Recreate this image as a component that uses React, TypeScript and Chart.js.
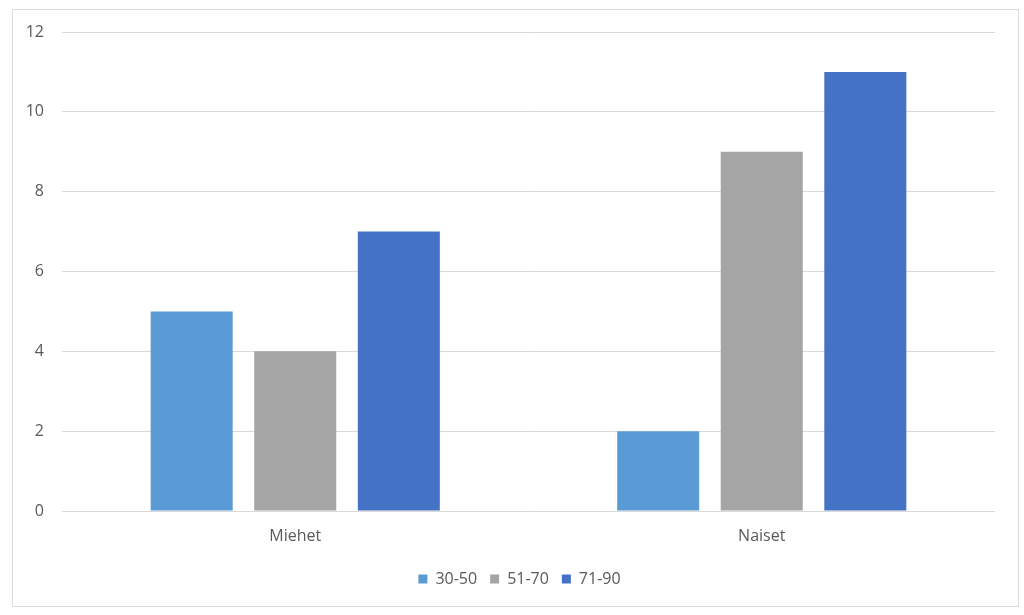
import React, { useEffect, useRef } from 'react';
import { Chart, registerables } from 'chart.js';
Chart.register(...registerables);

const categories = ['Miehet', 'Naiset'];
const seriesNames = ['30-50', '51-70', '71-90'];
const age3050 = [5, 2];
const age5170 = [4, 9];
const age7190 = [7, 11];
const seriesColors = ['#5B9BD5', '#A5A5A5', '#4472C4'];
const yTicks = [0, 2, 4, 6, 8, 10, 12];

// the original legend sits a little right of the canvas centre
const shiftLegend = {
  id: 'shiftLegend',
  afterLayout(chart: any) {
    const legend = chart.legend;
    if (legend) {
      legend.left += 16;
      legend.right += 16;
    }
  },
};

const App: React.FC = () => {
  const canvasRef = useRef<HTMLCanvasElement>(null);

  useEffect(() => {
    document.body.style.margin = '0';
    if (!canvasRef.current) return;
    const ctx = canvasRef.current.getContext('2d');
    if (!ctx) return;

    const values = [age3050, age5170, age7190];
    const textColor = '#595959';
    const font = { family: 'Open Sans', size: 16 };

    const chart = new Chart(ctx, {
      type: 'bar',
      data: {
        labels: categories,
        datasets: seriesNames.map((name, i) => ({
          label: name,
          data: values[i],
          backgroundColor: seriesColors[i],
          borderWidth: 0,
          categoryPercentage: 0.666,
          barPercentage: 0.792,
        })),
      },
      options: {
        animation: false,
        responsive: false,
        layout: { padding: { left: 12, right: 29, top: 32, bottom: 18 } },
        scales: {
          y: {
            min: 0,
            max: 12,
            afterBuildTicks: (axis: any) => {
              axis.ticks = yTicks.map(v => ({ value: v }));
            },
            afterFit: (axis: any) => {
              axis.width = 50;
            },
            grid: { color: '#D9D9D9', lineWidth: 1, drawTicks: false },
            border: { display: false },
            ticks: { color: textColor, font, padding: 18 },
          },
          x: {
            afterFit: (axis: any) => {
              axis.height = 47;
            },
            grid: { display: false },
            border: { display: false },
            ticks: { color: textColor, font, padding: 8 },
          },
        },
        plugins: {
          legend: {
            position: 'bottom',
            labels: {
              color: textColor,
              font,
              boxWidth: 9,
              boxHeight: 9,
              padding: 13,
            },
          },
          tooltip: { enabled: false },
        },
      },
      plugins: [shiftLegend],
    });

    return () => {
      chart.destroy();
    };
  }, []);

  return (
    <div style={{ position: 'relative', width: 1024, height: 615, background: '#fff' }}>
      <div
        style={{
          position: 'absolute',
          left: 12,
          top: 9,
          width: 1007,
          height: 598,
          border: '1px solid #D9D9D9',
          boxSizing: 'border-box',
        }}
      />
      <canvas ref={canvasRef} width={1024} height={615} style={{ position: 'absolute', left: 0, top: 0 }} />
    </div>
  );
};

export default App;
